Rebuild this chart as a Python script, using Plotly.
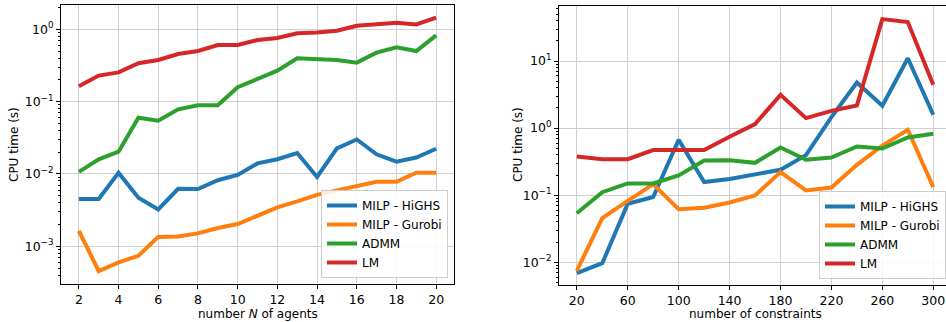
import numpy as np
import plotly.graph_objects as go

# ---------------- data ----------------
agents = list(range(2, 21))
agents_highs = [0.0045, 0.0045, 0.0104, 0.0047, 0.00324, 0.00625, 0.0062, 0.0082, 0.0097,
                0.014, 0.016, 0.0195, 0.0091, 0.0226, 0.030, 0.0187, 0.0148, 0.0169, 0.0223]
agents_gurobi = [0.00164, 0.000454, 0.000598, 0.00074, 0.00135, 0.00137, 0.00151, 0.00179, 0.00203,
                 0.00262, 0.00345, 0.00418, 0.00515, 0.00593, 0.00687, 0.0078, 0.0078, 0.0104, 0.0104]
agents_admm = [0.0107, 0.0159, 0.0203, 0.060, 0.0545, 0.0782, 0.089, 0.089, 0.158,
               0.203, 0.268, 0.397, 0.385, 0.376, 0.346, 0.475, 0.563, 0.501, 0.826]
agents_lm = [0.163, 0.229, 0.254, 0.339, 0.376, 0.455, 0.501, 0.607, 0.607,
             0.711, 0.758, 0.88, 0.90, 0.957, 1.12, 1.19, 1.23, 1.17, 1.45]

constraints = list(range(20, 301, 20))
cons_highs = [0.0069, 0.0097, 0.0745, 0.094, 0.67, 0.157, 0.175, 0.204, 0.239, 0.396,
              1.46, 4.78, 2.15, 11.0, 1.58]
cons_gurobi = [0.00747, 0.0456, 0.0826, 0.146, 0.062, 0.0649, 0.078, 0.099, 0.221, 0.118,
               0.130, 0.284, 0.55, 0.944, 0.132]
cons_admm = [0.054, 0.111, 0.150, 0.150, 0.197, 0.329, 0.333, 0.304, 0.514, 0.337,
             0.365, 0.532, 0.497, 0.724, 0.822]
cons_lm = [0.377, 0.345, 0.345, 0.47, 0.47, 0.47, 0.742, 1.15, 3.13, 1.41,
           1.81, 2.17, 42.1, 38.0, 4.42]

series_names = ["MILP - HiGHS", "MILP - Gurobi", "ADMM", "LM"]
colors = ["#1f77b4", "#ff7f0e", "#2ca02c", "#d62728"]

left_xticks = list(range(2, 21, 2))
right_xticks = list(range(20, 301, 40))
left_yexp = [-3, -2, -1, 0]
right_yexp = [-2, -1, 0, 1]

# ---------------- figure ----------------
W, H = 946, 322
fig = go.Figure()

left_series = [agents_highs, agents_gurobi, agents_admm, agents_lm]
right_series = [cons_highs, cons_gurobi, cons_admm, cons_lm]

for name, col, ys in zip(series_names, colors, left_series):
    fig.add_trace(go.Scatter(x=agents, y=ys, mode="lines", name=name,
                             line=dict(color=col, width=4),
                             xaxis="x", yaxis="y", legend="legend"))
for name, col, ys in zip(series_names, colors, right_series):
    fig.add_trace(go.Scatter(x=constraints, y=ys, mode="lines", name=name,
                             line=dict(color=col, width=4),
                             xaxis="x2", yaxis="y2", legend="legend2"))

def minor_vals(lo, hi):
    v = []
    for k in range(lo, hi + 1):
        for m in range(2, 10):
            v.append(m * 10.0 ** k)
    return v

def ylabels(exps):
    return ["10<sup>" + (str(e) if e >= 0 else "\u2212" + str(-e)) + "</sup>" for e in exps]

font = dict(family="DejaVu Sans", size=12, color="black")
tfont = dict(family="DejaVu Sans", size=12.5, color="black")
grid = "#d0d0d0"

common_x = dict(showline=True, linecolor="black", linewidth=1, ticks="outside",
                ticklen=4, tickcolor="black", showgrid=True, gridcolor=grid,
                gridwidth=1, zeroline=False, tickfont=tfont)
common_y = dict(type="log", showline=True, linecolor="black", linewidth=1,
                ticks="outside", ticklen=4, tickcolor="black", showgrid=True,
                gridcolor=grid, gridwidth=1, zeroline=False, tickfont=tfont)

fig.update_layout(
    width=W, height=H,
    margin=dict(l=0, r=0, t=0, b=0),
    paper_bgcolor="white", plot_bgcolor="white",
    font=font,
    xaxis=dict(common_x, domain=[61 / W, 454 / W], range=[1.1, 20.9],
               tickmode="array", tickvals=left_xticks, mirror=True, anchor="y"),
    yaxis=dict(common_y, domain=[38 / H, 317 / H], range=[-3.521, 0.336],
               tickmode="array", tickvals=[10.0 ** e for e in left_yexp],
               ticktext=ylabels(left_yexp), mirror=True, anchor="x",
               minor=dict(tickmode="array", tickvals=minor_vals(-4, 0),
                          ticks="outside", ticklen=2.5, tickcolor="black", showgrid=False)),
    xaxis2=dict(common_x, domain=[559 / W, 1.0], range=[6, 310],
                tickmode="array", tickvals=right_xticks, mirror=True, anchor="y2"),
    yaxis2=dict(common_y, domain=[37 / H, 316 / H], range=[-2.338, 1.82],
                tickmode="array", tickvals=[10.0 ** e for e in right_yexp],
                ticktext=ylabels(right_yexp), anchor="x2",
                minor=dict(tickmode="array", tickvals=minor_vals(-3, 1),
                           ticks="outside", ticklen=2.5, tickcolor="black", showgrid=False)),
    legend=dict(x=448 / W, y=(H - 278) / H, xanchor="right", yanchor="bottom",
                bgcolor="rgba(255,255,255,0.85)", bordercolor="#cccccc", borderwidth=1,
                font=font, tracegroupgap=0, itemwidth=30),
    legend2=dict(x=1.0, y=(H - 279) / H, xanchor="right", yanchor="bottom",
                 bgcolor="rgba(255,255,255,0.85)", bordercolor="#cccccc", borderwidth=1,
                 font=font, tracegroupgap=0, itemwidth=30),
    showlegend=True,
    annotations=[
        dict(text="number <i>N</i> of agents", x=(61 + 454) / 2 / W, y=(H - 314) / H,
             xref="paper", yref="paper", showarrow=False, font=font,
             xanchor="center", yanchor="middle"),
        dict(text="number of constraints", x=(559 + 952) / 2 / W, y=(H - 314) / H,
             xref="paper", yref="paper", showarrow=False, font=font,
             xanchor="center", yanchor="middle"),
        dict(text="CPU time (s)", x=14 / W, y=(H - 145) / H, textangle=-90,
             xref="paper", yref="paper", showarrow=False, font=font,
             xanchor="center", yanchor="middle"),
        dict(text="CPU time (s)", x=518 / W, y=(H - 145) / H, textangle=-90,
             xref="paper", yref="paper", showarrow=False, font=font,
             xanchor="center", yanchor="middle"),
    ],
)

fig.write_html("out.html")
